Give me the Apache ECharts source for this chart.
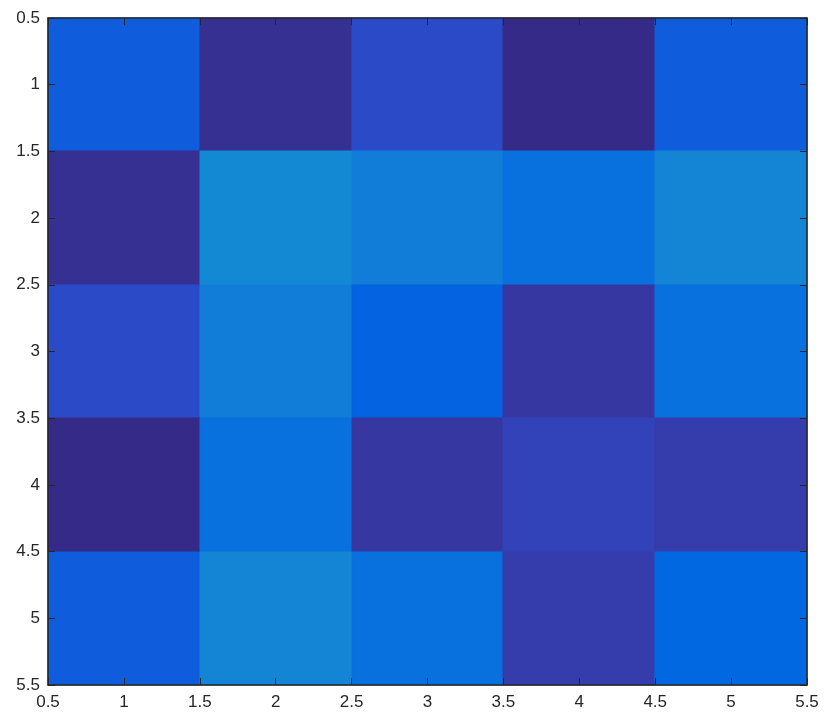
<!DOCTYPE html>
<html>
<head>
<meta charset="utf-8">
<script src="https://cdn.jsdelivr.net/npm/echarts@6/dist/echarts.min.js"></script>
<style>html,body{margin:0;padding:0;background:#fff}#c{width:830px;height:723px}</style>
</head>
<body>
<div id="c"></div>
<script>
// Column / row positions of the image cells
var cols = [1, 2, 3, 4, 5];
var rows = [1, 2, 3, 4, 5];
// Cell values (colormap index units), one array per row (top to bottom)
var row1 = [7, 1, 5, 0, 7];
var row2 = [1, 17, 14, 11, 16];
var row3 = [5, 14, 8, 2, 11];
var row4 = [0, 11, 2, 4, 3];
var row5 = [7, 16, 11, 3, 9];
// Axis tick labels
var tickLabels = ['0.5', '1', '1.5', '2', '2.5', '3', '3.5', '4', '4.5', '5', '5.5'];
// Parula colormap (first entries)
var parula = ['#352a87', '#363093', '#3637a0', '#353dad', '#3243ba', '#2b4ac7', '#2053d4', '#0f5cdd',
  '#0363e1', '#0268e1', '#046de0', '#0871de', '#0d75dc', '#1079da', '#127dd8', '#1481d6', '#1485d4', '#1389d3', '#108ed2'];

var grid = [row1, row2, row3, row4, row5];
var data = [];
rows.forEach(function (r, i) {
  cols.forEach(function (c, j) {
    data.push([c, r, grid[i][j]]);
  });
});

var textColor = '#262626';
var fontFamily = 'Liberation Sans, Arial, sans-serif';
function fmt(v) { var s = String(Math.round(v * 10) / 10); return tickLabels.indexOf(s) >= 0 ? s : ''; }

var baseAxis = {
  type: 'value', min: 0.5, max: 5.5, interval: 0.5, z: 10,
  axisLine: { show: true, onZero: false, lineStyle: { color: textColor, width: 1.5 } },
  axisTick: { show: true, inside: true, length: 7, lineStyle: { color: textColor, width: 1 } },
  splitLine: { show: false },
  axisLabel: { show: true, color: textColor, fontSize: 17, fontFamily: fontFamily, formatter: fmt }
};
function ax(extra) { return Object.assign({}, JSON.parse(JSON.stringify(baseAxis)), extra); }

var chart = echarts.init(document.getElementById('c'));
chart.setOption({
  animation: false,
  backgroundColor: '#ffffff',
  grid: { left: 48, top: 18, right: 23, bottom: 38, containLabel: false },
  xAxis: [
    ax({ position: 'bottom', axisLabel: { color: textColor, fontSize: 17, fontFamily: fontFamily, margin: 9, formatter: fmt } }),
    ax({ position: 'top', axisLabel: { show: false } })
  ],
  yAxis: [
    ax({ position: 'left', inverse: true, axisLabel: { color: textColor, fontSize: 17, fontFamily: fontFamily, margin: 8, formatter: fmt } }),
    ax({ position: 'right', inverse: true, axisLabel: { show: false } })
  ],
  visualMap: {
    show: false, type: 'continuous', min: 0, max: parula.length - 1,
    dimension: 2, seriesIndex: 0, inRange: { color: parula }
  },
  series: [{
    type: 'custom',
    xAxisIndex: 0, yAxisIndex: 0,
    data: data,
    z: 1,
    renderItem: function (params, api) {
      var x = api.value(0), y = api.value(1);
      var p0 = api.coord([x - 0.5, y - 0.5]);
      var p1 = api.coord([x + 0.5, y + 0.5]);
      var x0 = Math.round(Math.min(p0[0], p1[0])), x1 = Math.round(Math.max(p0[0], p1[0]));
      var y0 = Math.round(Math.min(p0[1], p1[1])), y1 = Math.round(Math.max(p0[1], p1[1]));
      var c = api.visual('color');
      return {
        type: 'rect',
        shape: { x: x0, y: y0, width: x1 - x0, height: y1 - y0 },
        style: { fill: c, stroke: c, lineWidth: 1 }
      };
    }
  }]
});
</script>
</body>
</html>
